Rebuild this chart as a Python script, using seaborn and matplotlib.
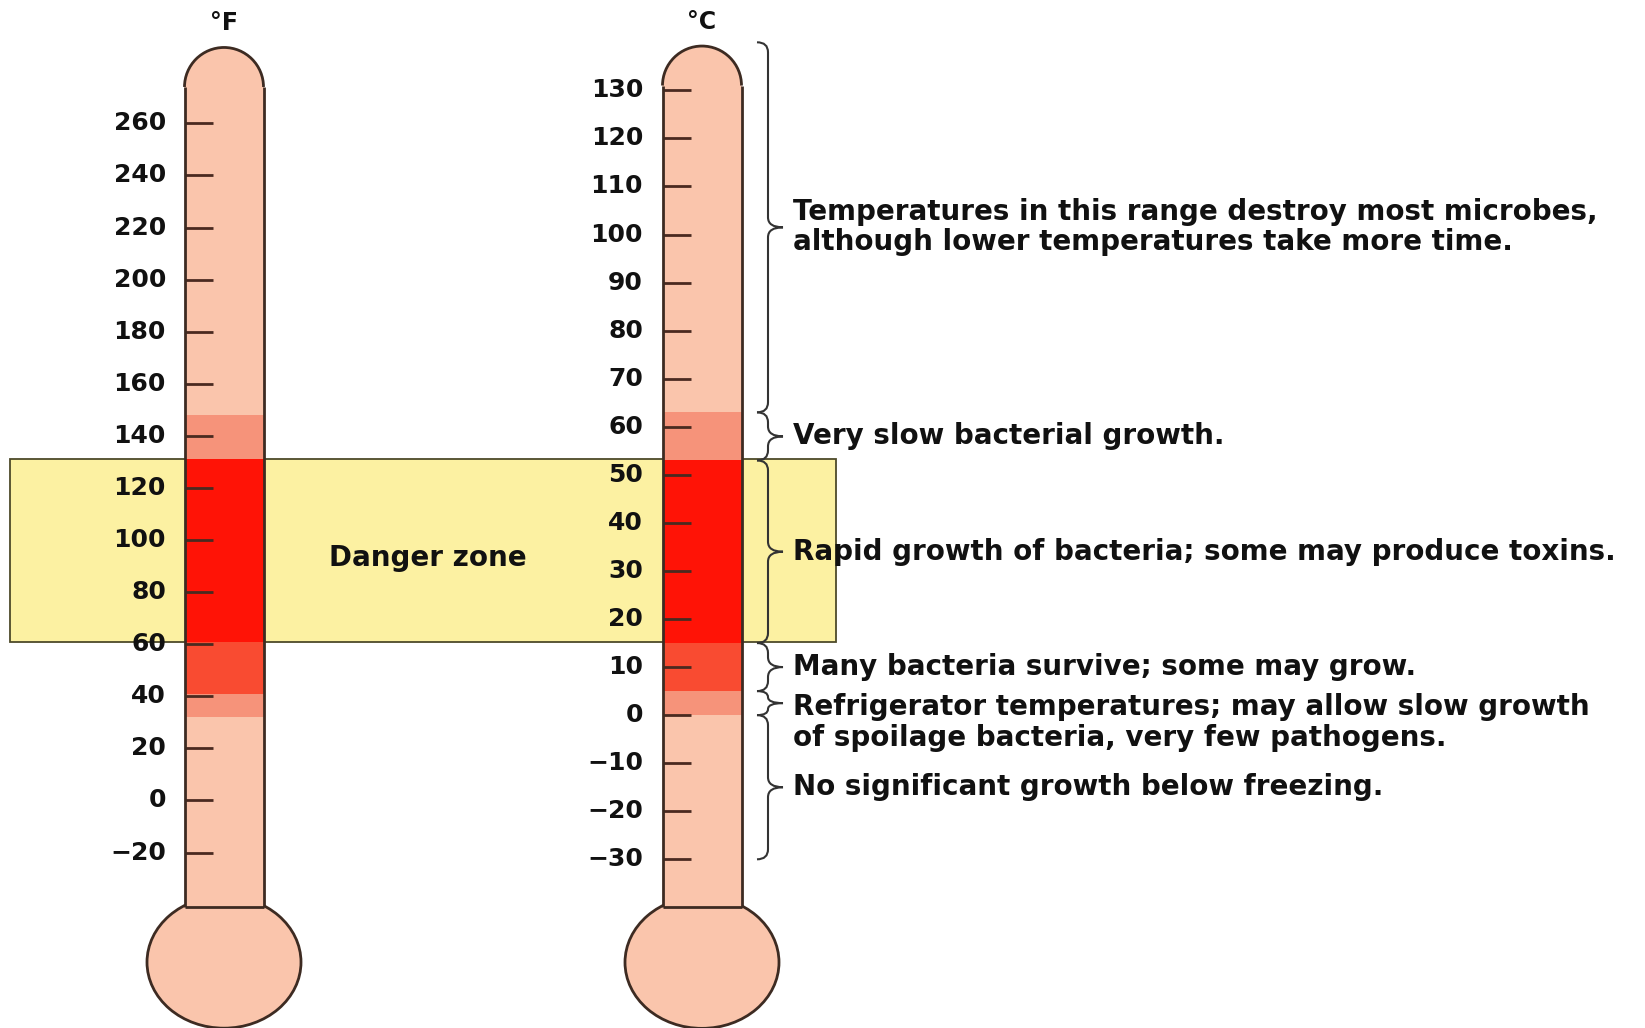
import matplotlib
matplotlib.use('Agg')
import matplotlib.pyplot as plt
from matplotlib.patches import Rectangle, Ellipse, Arc, PathPatch
from matplotlib.path import Path
import seaborn as sns

sns.set_theme(style='white')
plt.rcParams['font.family'] = ['DejaVu Sans']

# scale ticks
f_ticks = [260, 240, 220, 200, 180, 160, 140, 120, 100, 80, 60, 40, 20, 0, -20]
c_ticks = [130, 120, 110, 100, 90, 80, 70, 60, 50, 40, 30, 20, 10, 0, -10, -20, -30]

# coloured zones inside the tubes (upper edges down to lower edges)
f_band_edges = [148, 131, 61, 41, 32]
c_band_edges = [63, 53, 15, 5, 0]
band_colors = ['#F6937A', '#FF1306', '#F94B31', '#F6937A']

# danger zone (deg F)
danger_f = [61, 131]

# bracketed ranges on the Celsius scale
brace_ranges_c = [(140, 63), (63, 53), (53, 15), (15, 5), (5, 0), (0, -30)]
brace_texts = [
    'Temperatures in this range destroy most microbes,\nalthough lower temperatures take more time.',
    'Very slow bacterial growth.',
    'Rapid growth of bacteria; some may produce toxins.',
    'Many bacteria survive; some may grow.',
    'Refrigerator temperatures; may allow slow growth\nof spoilage bacteria, very few pathogens.',
    'No significant growth below freezing.',
]

W, H = 1645, 1028
LIGHT = '#FAC5AC'
EDGE = '#3D2B22'
INK = '#111111'

fig = plt.figure(figsize=(W / 100, H / 100), dpi=100)
fig.patch.set_facecolor('white')
axF = fig.add_axes([0, 0, 1, 1])
axF.set_xlim(0, W)
axF.set_ylim(-87.4, 307.4)
axC = axF.twinx()
axC.set_ylim(-65.1, 148.8)
for ax in (axF, axC):
    ax.axis('off')


def px_per_unit(ax):
    lo, hi = ax.get_ylim()
    return H / (hi - lo)


def thermometer(ax, xc, top, bottom, ticks, edges, label_x, unit):
    k = px_per_unit(ax)
    w = 79
    left = xc - w / 2
    # bulb
    ax.add_patch(Ellipse((xc, bottom - 55 / k), 154, 132 / k, fc=LIGHT, ec=EDGE, lw=2, zorder=2))
    # tube body and cap
    ax.add_patch(Rectangle((left, bottom), w, top - bottom, fc=LIGHT, ec='none', zorder=3))
    ax.add_patch(Ellipse((xc, top), w, w / k, fc=LIGHT, ec='none', zorder=3))
    # coloured bands
    for hi, lo, col in zip(edges[:-1], edges[1:], band_colors):
        ax.add_patch(Rectangle((left, lo), w, hi - lo, fc=col, ec='none', zorder=4))
    # ticks and labels
    ax.hlines(ticks, left, left + 28, color='#4A2A20', lw=2, zorder=5)
    for t in ticks:
        ax.text(label_x, t, f'{t}'.replace('-', '\u2212'), ha='right', va='center',
                fontsize=18, fontweight='bold', color=INK, zorder=6)
    # outline
    ax.vlines([left, left + w], bottom, top, color=EDGE, lw=2, zorder=6)
    ax.hlines(bottom, left, left + w, color=EDGE, lw=2, zorder=6)
    ax.add_patch(Arc((xc, top), w, w / k, theta1=0, theta2=180, color=EDGE, lw=2, zorder=6))
    ax.text(xc, top + w / 2 / k + 24 / k, unit, ha='center', va='center',
            fontsize=17, fontweight='bold', color=INK)


# danger zone band behind the tubes
axF.add_patch(Rectangle((10, danger_f[0]), 826, danger_f[1] - danger_f[0],
                        fc='#FCF1A2', ec='#4d4a2a', lw=1.3, zorder=1))
axF.text(428, sum(danger_f) / 2 - 3, 'Danger zone', ha='center', va='center',
         fontsize=20, fontweight='bold', color=INK, zorder=2)

thermometer(axF, 224, 274, -41, f_ticks, f_band_edges, 166, '\u00b0F')
thermometer(axC, 702, 131, -40, c_ticks, c_band_edges, 643, '\u00b0C')

# curly braces with notes
k = px_per_unit(axC)
x_curl, x_spine, x_tip = 757, 768, 783
for (y0, y1), txt in zip(brace_ranges_c, brace_texts):
    m = (y0 + y1) / 2
    r = min(10 / k, (y0 - y1) / 4)
    verts = [(x_curl, y0), (x_spine, y0), (x_spine, y0 - r), (x_spine, m + r),
             (x_spine, m), (x_tip, m), (x_spine, m), (x_spine, m - r),
             (x_spine, y1 + r), (x_spine, y1), (x_curl, y1)]
    codes = [Path.MOVETO, Path.CURVE3, Path.CURVE3, Path.LINETO,
             Path.CURVE3, Path.CURVE3, Path.CURVE3, Path.CURVE3,
             Path.LINETO, Path.CURVE3, Path.CURVE3]
    axC.add_patch(PathPatch(Path(verts, codes), fc='none', ec='#333333', lw=1.5, zorder=7))
    if txt.startswith('Refrigerator'):
        axC.annotate(txt, (x_tip, m), xytext=(7, 7), textcoords='offset points',
                     ha='left', va='top', fontsize=20, fontweight='bold',
                     color=INK, linespacing=1.1, zorder=8)
    else:
        axC.annotate(txt, (x_tip, m), xytext=(7, 0), textcoords='offset points',
                     ha='left', va='center', fontsize=20, fontweight='bold',
                     color=INK, linespacing=1.1, zorder=8)

fig.savefig('out.png', dpi=100, facecolor='white')
